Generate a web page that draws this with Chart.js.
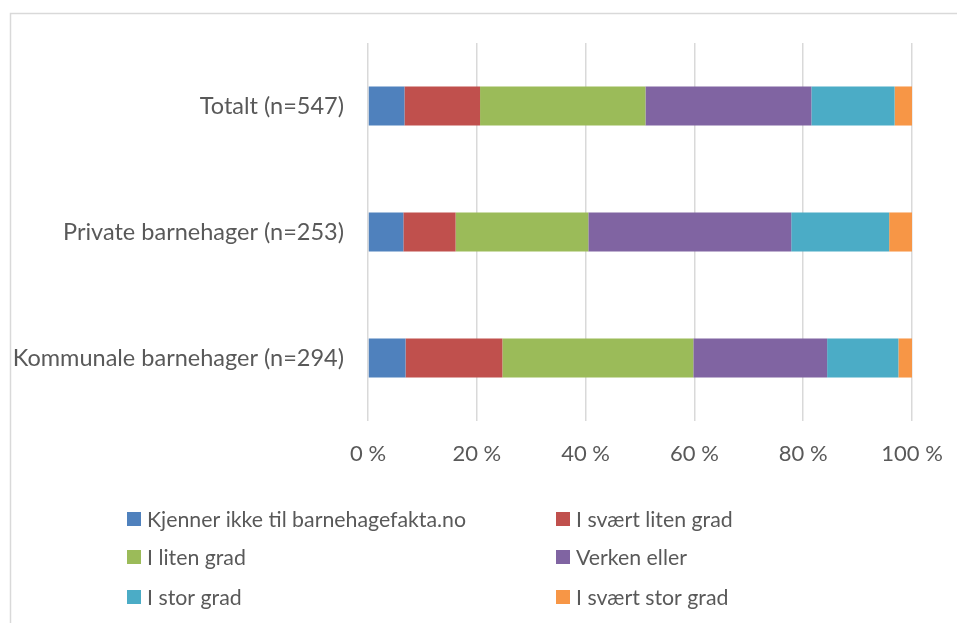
<!DOCTYPE html>
<html>
<head>
<meta charset="utf-8">
<script src="https://cdn.jsdelivr.net/npm/chart.js@4"></script>
<style>
  html, body { margin: 0; padding: 0; background: #fff; }
  #wrap { width: 957px; height: 623px; }
</style>
</head>
<body>
<div id="wrap"><canvas id="chart" width="957" height="623"></canvas></div>
<script>
// categorie (dall'alto verso il basso)
const groups = ['Totalt (n=547)', 'Private barnehager (n=253)', 'Kommunale barnehager (n=294)'];

// serie, in percentuale
const seriesNames = ['Kjenner ikke til barnehagefakta.no', 'I svært liten grad', 'I liten grad', 'Verken eller', 'I stor grad', 'I svært stor grad'];
const kjennerIkke   = [6.7, 6.5, 6.9];
const sværtLiten    = [13.9, 9.6, 17.8];
const liten         = [30.4, 24.4, 35.1];
const verkenEller   = [30.5, 37.3, 24.6];
const stor          = [15.3, 18.0, 13.1];
const sværtStor     = [3.2, 4.2, 2.5];

const xTicks = [0, 20, 40, 60, 80, 100];

const colors = ['#4F81BD', '#C0504D', '#9BBB59', '#8064A2', '#4BACC6', '#F79646'];
const FONT = 'Lato, "Open Sans", sans-serif';
const TEXT = '#595959';

const values = [kjennerIkke, sværtLiten, liten, verkenEller, stor, sværtStor];

// ======== CORNICE + LEGENDA A DUE COLONNE ========
const framePlugin = {
    id: 'frame',
    beforeDraw(chart) {
        const ctx = chart.ctx;
        ctx.save();
        ctx.strokeStyle = '#d9d9d9';
        ctx.lineWidth = 1.5;
        ctx.beginPath();
        ctx.moveTo(10.5, 623);
        ctx.lineTo(10.5, 13.5);
        ctx.lineTo(957, 13.5);
        ctx.stroke();
        ctx.restore();
    }
};

const legendPlugin = {
    id: 'gridLegend',
    afterDraw(chart) {
        const ctx = chart.ctx;
        const colX = [127, 556];
        const rowY = [519, 557, 597];
        ctx.save();
        ctx.font = '21.3px ' + FONT;
        ctx.textBaseline = 'middle';
        chart.data.datasets.forEach((ds, i) => {
            const x = colX[i % 2];
            const y = rowY[Math.floor(i / 2)];
            ctx.fillStyle = ds.backgroundColor;
            ctx.fillRect(x, y - 7, 14, 14);
            ctx.fillStyle = TEXT;
            ctx.fillText(ds.label, x + 20, y + 1);
        });
        ctx.restore();
    }
};

const ctx = document.getElementById('chart').getContext('2d');
new Chart(ctx, {
    type: 'bar',
    data: {
        labels: groups,
        datasets: seriesNames.map((name, i) => ({
            label: name,
            data: values[i],
            backgroundColor: colors[i],
            borderWidth: 0,
            barPercentage: 0.62,
            categoryPercentage: 0.5
        }))
    },
    options: {
        indexAxis: 'y',
        responsive: false,
        animation: false,
        layout: { padding: { top: 43, right: 45, bottom: 142, left: 0 } },
        plugins: {
            legend: { display: false },
            tooltip: { enabled: false }
        },
        scales: {
            x: {
                stacked: true,
                min: 0,
                max: 100,
                afterBuildTicks: (scale) => { scale.ticks = xTicks.map(v => ({ value: v })); },
                afterFit: (scale) => {
                    scale.height = 60;
                    scale.paddingLeft = 0;
                    scale.paddingRight = 0;
                },
                grid: { color: '#d9d9d9', lineWidth: 1.5, drawTicks: false },
                border: { display: false },
                ticks: {
                    padding: 20,
                    color: TEXT,
                    font: { family: FONT, size: 22 },
                    callback: v => v + ' %'
                }
            },
            y: {
                stacked: true,
                afterFit: (scale) => { scale.width = 368; },
                grid: { display: false, drawTicks: false },
                border: { display: false },
                ticks: {
                    padding: 24,
                    color: TEXT,
                    font: { family: FONT, size: 23.5 }
                }
            }
        }
    },
    plugins: [framePlugin, legendPlugin]
});
</script>
</body>
</html>
